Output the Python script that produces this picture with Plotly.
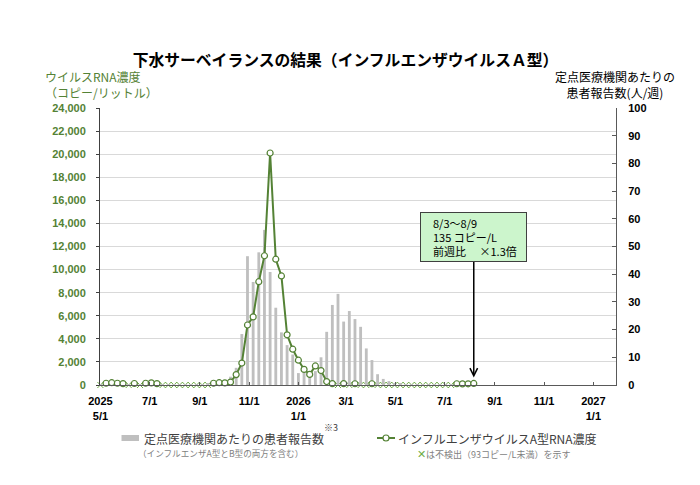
import pandas as pd
import plotly.graph_objects as go

# ---------------- data ----------------
week_start = pd.date_range("2025-04-28", "2026-08-03", freq="7D")   # Monday of each week
week_mid = week_start + pd.Timedelta(days=3)

# influenza A RNA concentration (copies/L); None = not detected (<93 copies/L)
rna_copies = [
    None, 150, 200, 150, 120, None, 130, None, 150, 180, 120,
    None, None, None, None, None, None, None, None, None,
    150, 200, 180, 250, 900, 1900, 5200, 5900, 8950, 11200, 20100,
    10900, 9450, 4350, 3100, 2150, 1350, 920, 1650, 1250, 300, 120,
    None, 120, None, 110, None, None, 110,
    None, None, None, None, None, None, None, None, None, None, None, None, None, None,
    110, 100, 104, 135,
]

# patients per sentinel site (people/week), influenza A+B
patients_per_site = [
    0.3, 0.3, 0.2, 0.2, 0.2, 0.1, 0.1, 0.1, 0.1, 0.1, 0.1, 0.1, 0.1, 0.1, 0.1, 0.1,
    0.2, 0.2, 0.3, 0.4, 0.5,
    0.8, 1.5, 3.0, 6.2, 18.4, 46.5, 37.2, 47.9, 56.0, 40.8, 27.9, 19.0, 14.4, 11.0,
    4.3, 4.8, 3.6, 5.0, 10.0, 19.2, 28.9, 32.9, 22.9, 26.7, 23.8, 21.0, 13.2, 9.0,
    3.9, 2.2, 1.4, 0.7, 0.4,
    0.3, 0.2, 0.2, 0.1, 0.1, 0.1, 0.1, 0.1, 0.1, 0.1, 0.1, 0.1, 0.1,
]

tick_dates = ["2025-05-01", "2025-07-01", "2025-09-01", "2025-11-01", "2026-01-01",
              "2026-03-01", "2026-05-01", "2026-07-01", "2026-09-01", "2026-11-01",
              "2027-01-01"]
tick_labels = ["2025<br>5/1", "7/1", "9/1", "11/1", "2026<br>1/1", "3/1", "5/1",
               "7/1", "9/1", "11/1", "2027<br>1/1"]

left_ticks = list(range(0, 24001, 2000))
right_ticks = list(range(0, 101, 10))

latest_text = "8/3～8/9<br>135 コピー/L<br>前週比　 ×1.3倍"

# ---------------- styling ----------------
GREEN = "#548235"
XGREEN = "#70AD47"
JP = "Noto Sans CJK JP"
AR = "Liberation Sans"

W, H = 692, 477          # page body has an 8px default margin
OFF = 8

nd_x = [d for d, v in zip(week_mid, rna_copies) if v is None]
nd_y = [0 for _ in nd_x]

fig = go.Figure()
fig.add_trace(go.Scatter(
    x=nd_x, y=nd_y, yaxis="y", mode="markers",
    marker=dict(symbol="x-thin", size=6, color=XGREEN, line=dict(color=XGREEN, width=1)),
    cliponaxis=False, showlegend=False,
))
fig.add_trace(go.Bar(
    x=week_mid, y=patients_per_site, yaxis="y2",
    marker=dict(color="#BFBFBF", line=dict(width=0)),
    width=3.5 * 86400000, showlegend=False,
))
fig.add_trace(go.Scatter(
    x=week_mid, y=rna_copies, yaxis="y3", mode="lines+markers",
    line=dict(color=GREEN, width=2),
    marker=dict(symbol="circle", size=6, color="white", line=dict(color=GREEN, width=1.2)),
    connectgaps=False, cliponaxis=False, showlegend=False,
))

fig.update_layout(
    width=W, height=H, autosize=False,
    margin=dict(l=100 - OFF, r=84, t=108 - OFF, b=H - (385 - OFF)),
    paper_bgcolor="white", plot_bgcolor="white",
    font=dict(family=JP, size=12, color="#000000"),
    title=dict(text="下水サーベイランスの結果（インフルエンザウイルスＡ型）",
               font=dict(family=JP, size=15.8, color="#000000", weight="bold"),
               x=(345.5 - OFF) / W, xref="container", xanchor="center",
               y=1 - (60 - OFF) / H, yref="container", yanchor="middle"),
    xaxis=dict(type="date", range=["2025-04-30 12:00", "2027-01-29"],
               tickmode="array", tickvals=tick_dates, ticktext=tick_labels,
               ticks="inside", ticklen=3, tickcolor="#595959",
               showline=True, linecolor="#595959", linewidth=1,
               showgrid=False, zeroline=False,
               tickfont=dict(family=AR, size=11, color="#000000", weight="bold"),
               ticklabelstandoff=6),
    yaxis=dict(range=[0, 24000], tickmode="array", tickvals=left_ticks,
               tickformat=",d", showgrid=True, gridcolor="#D9D9D9", gridwidth=1,
               showline=True, linecolor="#404040", linewidth=1,
               ticks="outside", ticklen=3, tickcolor="#404040", zeroline=False,
               tickfont=dict(family=AR, size=11, color=GREEN, weight="bold"),
               ticklabelstandoff=8),
    yaxis2=dict(overlaying="y", side="right", anchor="x", range=[0, 100], tickmode="array",
                tickvals=right_ticks, showgrid=False, zeroline=False,
                showline=True, linecolor="#595959", linewidth=1,
                ticks="inside", ticklen=4, tickcolor="#595959",
                tickfont=dict(family=AR, size=11, color="#000000", weight="bold"),
                ticklabelstandoff=9),
    yaxis3=dict(overlaying="y", anchor="x", range=[0, 24000], visible=False),
)


def px_x(X):
    return (X - 100) / 516


def px_y(Y):
    return (385 - Y) / 277


ann = [
    dict(text="ウイルスRNA濃度<br>（コピー/リットル）", xref="paper", yref="paper",
         x=px_x(43), y=px_y(85), xanchor="left", yanchor="middle", align="left",
         showarrow=False, font=dict(family=JP, size=12, color=GREEN)),
    dict(text="定点医療機関あたりの<br>患者報告数(人/週)", xref="paper", yref="paper",
         x=px_x(615), y=px_y(84), xanchor="center", yanchor="middle", align="center",
         showarrow=False, font=dict(family=JP, size=12, color="#000000")),
    dict(text="定点医療機関あたりの患者報告数", xref="paper", yref="paper",
         x=px_x(142), y=px_y(438.5), xanchor="left", yanchor="middle",
         showarrow=False, font=dict(family=JP, size=12, color="#404040")),
    dict(text="※3", xref="paper", yref="paper",
         x=px_x(322), y=px_y(427), xanchor="left", yanchor="middle",
         showarrow=False, font=dict(family=JP, size=9, color="#404040")),
    dict(text="（インフルエンザA型とB型の両方を含む）", xref="paper", yref="paper",
         x=px_x(136), y=px_y(452.7), xanchor="left", yanchor="middle",
         showarrow=False, font=dict(family=JP, size=8.6, color="#7F7F7F")),
    dict(text="インフルエンザウイルスA型RNA濃度", xref="paper", yref="paper",
         x=px_x(396), y=px_y(438.5), xanchor="left", yanchor="middle",
         showarrow=False, font=dict(family=JP, size=12, color="#404040")),
    dict(text=f"<span style='color:{XGREEN};font-size:10.5px'>✕</span>は不検出（93コピー/L未満）を示す",
         xref="paper", yref="paper",
         x=px_x(415), y=px_y(453.5), xanchor="left", yanchor="middle",
         showarrow=False, font=dict(family=JP, size=9, color="#7F7F7F")),
    dict(text="\u2002\u2002" + latest_text.replace("<br>", "<br>\u2002\u2002"),
         x=week_mid[-1], y=rna_copies[-1], xref="x", yref="y3",
         ax=0, ay=-146, axref="pixel", ayref="pixel",
         showarrow=True, arrowhead=5, arrowsize=1, arrowwidth=1.5,
         arrowcolor="#000000", standoff=6,
         align="left", width=103, height=46,
         bgcolor="#CCF5CC", bordercolor="#404040", borderwidth=1, borderpad=1,
         font=dict(family=JP, size=11, color="#000000")),
]
fig.update_layout(annotations=ann)

shapes = [
    dict(type="rect", xref="paper", yref="paper",
         x0=px_x(121.5), x1=px_x(139), y0=px_y(441), y1=px_y(435),
         fillcolor="#BFBFBF", line=dict(width=0)),
    dict(type="line", xref="paper", yref="paper",
         x0=px_x(377), x1=px_x(395), y0=px_y(438), y1=px_y(438),
         line=dict(color=GREEN, width=2)),
    dict(type="circle", xref="paper", yref="paper",
         x0=px_x(383), x1=px_x(389), y0=px_y(441), y1=px_y(435),
         fillcolor="white", line=dict(color=GREEN, width=1.2)),
]
fig.update_layout(shapes=shapes)

fig.write_html("out.html")
